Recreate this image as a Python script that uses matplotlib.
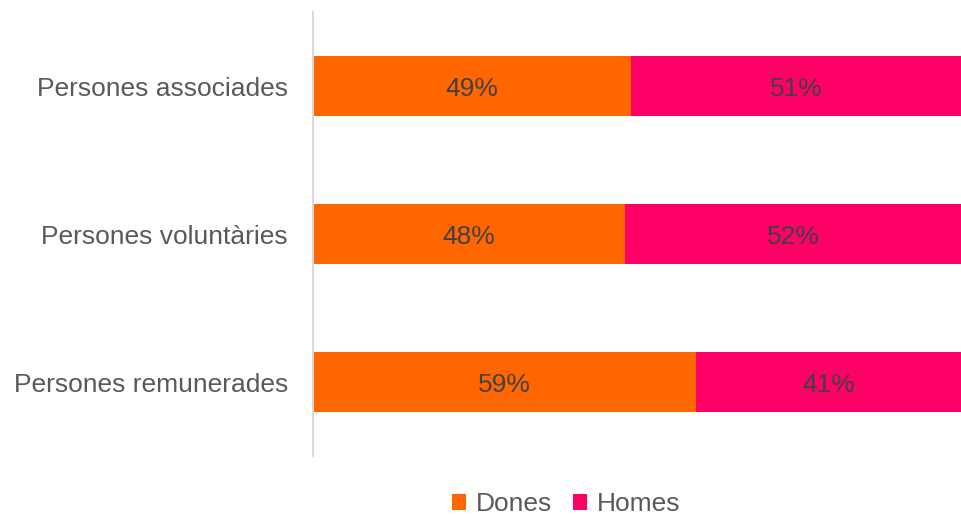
import matplotlib.pyplot as plt
import numpy as np

plt.rcParams['font.family'] = ['Liberation Sans', 'DejaVu Sans']

categories = ['Persones associades', 'Persones voluntàries', 'Persones remunerades']
dones = [49, 48, 59]
homes = [51, 52, 41]

c_dones = '#FF6600'
c_homes = '#FF0066'

fig = plt.figure(figsize=(9.62, 5.17), dpi=100)
ax = fig.add_axes([313 / 962, 1 - 456 / 517, 649 / 962, 444 / 517])

y = np.arange(len(categories))
b1 = ax.barh(y, dones, height=0.4, color=c_dones, label='Dones')
b2 = ax.barh(y, homes, left=dones, height=0.4, color=c_homes, label='Homes')

for bars, vals in ((b1, dones), (b2, homes)):
    for rect, v in zip(bars, vals):
        ax.text(rect.get_x() + rect.get_width() / 2, rect.get_y() + rect.get_height() / 2,
                f'{v}%', ha='center', va='center_baseline', fontsize=19, color='#404040')

ax.set_xlim(0, 100)
ax.set_ylim(len(categories) - 0.5, -0.5)
ax.set_yticks(y)
ax.set_yticklabels(categories, fontsize=19, color='#595959')
ax.tick_params(axis='y', length=0, pad=18)
ax.set_xticks([])
for s in ('top', 'right', 'bottom'):
    ax.spines[s].set_visible(False)
ax.spines['left'].set_color('#D9D9D9')
ax.spines['left'].set_linewidth(1.5)

fig.legend(handles=[b1, b2], loc='center', bbox_to_anchor=(566 / 962, 1 - 504 / 517),
           ncol=2, frameon=False, fontsize=19, labelcolor='#595959',
           handlelength=0.55, handleheight=0.55, handletextpad=0.35, columnspacing=0.8,
           borderpad=0.1)

fig.savefig('out.png', dpi=100)
